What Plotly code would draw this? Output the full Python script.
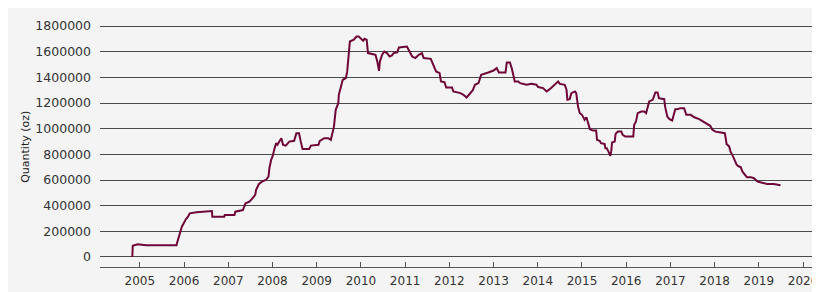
import plotly.graph_objects as go

# decimal years and quantity in oz
years = [
    2004.83, 2004.84, 2004.95, 2005.14, 2005.83, 2005.84, 2005.95, 2005.99, 2006.04, 2006.09,
    2006.13, 2006.28, 2006.63, 2006.64, 2006.91, 2006.92, 2007.14, 2007.16, 2007.33, 2007.39,
    2007.48, 2007.55, 2007.61, 2007.63, 2007.69, 2007.76, 2007.85, 2007.91, 2007.93, 2007.97,
    2008.00, 2008.04, 2008.08, 2008.11, 2008.15, 2008.20, 2008.24, 2008.30, 2008.38, 2008.49,
    2008.54, 2008.60, 2008.64, 2008.68, 2008.83, 2008.87, 2009.04, 2009.07, 2009.17, 2009.26,
    2009.32, 2009.35, 2009.39, 2009.43, 2009.49, 2009.50, 2009.54, 2009.59, 2009.66, 2009.69,
    2009.73, 2009.75, 2009.84, 2009.90, 2009.95, 2010.01, 2010.05, 2010.08, 2010.13, 2010.16,
    2010.25, 2010.33, 2010.37, 2010.41, 2010.43, 2010.48, 2010.53, 2010.59, 2010.65, 2010.70,
    2010.74, 2010.82, 2010.86, 2011.04, 2011.10, 2011.16, 2011.23, 2011.31, 2011.38, 2011.42,
    2011.58, 2011.64, 2011.70, 2011.78, 2011.81, 2011.89, 2011.93, 2012.06, 2012.09, 2012.25,
    2012.32, 2012.39, 2012.45, 2012.53, 2012.58, 2012.66, 2012.72, 2012.77, 2012.88, 2013.00,
    2013.07, 2013.12, 2013.27, 2013.30, 2013.37, 2013.41, 2013.45, 2013.48, 2013.56, 2013.60,
    2013.75, 2013.86, 2013.97, 2014.01, 2014.12, 2014.20, 2014.27, 2014.35, 2014.42, 2014.46,
    2014.50, 2014.61, 2014.65, 2014.67, 2014.72, 2014.76, 2014.84, 2014.87, 2014.91, 2014.95,
    2015.00, 2015.06, 2015.10, 2015.14, 2015.18, 2015.25, 2015.32, 2015.34, 2015.40, 2015.43,
    2015.51, 2015.53, 2015.56, 2015.61, 2015.64, 2015.66, 2015.68, 2015.74, 2015.76, 2015.81,
    2015.89, 2015.92, 2015.98, 2016.16, 2016.18, 2016.22, 2016.26, 2016.34, 2016.41, 2016.45,
    2016.49, 2016.52, 2016.60, 2016.66, 2016.71, 2016.74, 2016.86, 2016.88, 2016.93, 2016.98,
    2017.04, 2017.08, 2017.11, 2017.15, 2017.23, 2017.31, 2017.36, 2017.46, 2017.54, 2017.65,
    2017.71, 2017.84, 2017.90, 2017.95, 2018.02, 2018.14, 2018.23, 2018.25, 2018.27, 2018.33,
    2018.36, 2018.40, 2018.44, 2018.50, 2018.55, 2018.59, 2018.63, 2018.68, 2018.73, 2018.82,
    2018.89, 2018.97, 2019.04, 2019.19, 2019.34, 2019.43, 2019.49,
]
quantity = [
    0, 88000, 99000, 91000, 91000, 107000, 236000, 263000, 294000, 314000,
    340000, 348000, 358000, 314000, 314000, 327000, 327000, 353000, 366000, 418000,
    431000, 458000, 484000, 523000, 567000, 587000, 600000, 626000, 692000, 757000,
    782000, 835000, 887000, 874000, 899000, 926000, 874000, 868000, 899000, 905000,
    965000, 965000, 899000, 842000, 842000, 868000, 874000, 905000, 926000, 926000,
    913000, 965000, 1016000, 1147000, 1199000, 1264000, 1328000, 1381000, 1394000, 1446000,
    1601000, 1679000, 1693000, 1718000, 1718000, 1700000, 1685000, 1700000, 1693000, 1589000,
    1581000, 1576000, 1524000, 1451000, 1524000, 1576000, 1601000, 1589000, 1562000, 1570000,
    1589000, 1594000, 1633000, 1640000, 1601000, 1562000, 1550000, 1576000, 1589000, 1550000,
    1544000, 1498000, 1446000, 1433000, 1368000, 1362000, 1321000, 1321000, 1290000, 1277000,
    1264000, 1243000, 1269000, 1300000, 1342000, 1355000, 1420000, 1427000, 1438000, 1453000,
    1472000, 1438000, 1438000, 1516000, 1516000, 1472000, 1394000, 1368000, 1368000, 1355000,
    1342000, 1349000, 1342000, 1324000, 1316000, 1290000, 1308000, 1334000, 1360000, 1368000,
    1349000, 1342000, 1303000, 1225000, 1230000, 1277000, 1290000, 1277000, 1172000, 1121000,
    1108000, 1069000, 1089000, 1043000, 996000, 985000, 985000, 913000, 905000, 887000,
    881000, 848000, 848000, 814000, 788000, 821000, 892000, 899000, 959000, 977000,
    977000, 952000, 938000, 938000, 1030000, 1055000, 1121000, 1133000, 1133000, 1121000,
    1172000, 1212000, 1225000, 1282000, 1282000, 1238000, 1230000, 1172000, 1094000, 1074000,
    1063000, 1108000, 1152000, 1152000, 1160000, 1160000, 1108000, 1108000, 1089000, 1074000,
    1063000, 1037000, 1022000, 991000, 977000, 970000, 965000, 926000, 881000, 860000,
    821000, 796000, 762000, 718000, 705000, 700000, 665000, 640000, 622000, 622000,
    614000, 588000, 580000, 569000, 569000, 562000, 559000,
]

x_ticks = list(range(2005, 2021))
y_ticks = list(range(0, 1800001, 200000))

fig = go.Figure()
fig.add_trace(go.Scatter(
    x=years, y=quantity, mode="lines",
    line=dict(color="#6e0638", width=2),
    hoverinfo="x+y", showlegend=False,
))

bg = "#f4f4f4"
fig.update_layout(
    width=812, height=284,
    margin=dict(l=92, r=2, t=8, b=25),
    paper_bgcolor=bg,
    plot_bgcolor=bg,
    font=dict(family="DejaVu Sans, Verdana, sans-serif", color="#333333"),
    annotations=[dict(
        text="Quantity (oz)", textangle=-90,
        xref="paper", yref="paper",
        x=(25 - 100) / 718, y=(267 - 146.5) / 251,
        xanchor="center", yanchor="middle", showarrow=False,
        font=dict(size=11, color="#222222"),
    )],
)
fig.update_xaxes(
    range=[2004.099, 2020.27],
    tickmode="array", tickvals=x_ticks, ticktext=[str(v) for v in x_ticks],
    showgrid=False, zeroline=False,
    showline=True, linecolor="#555555", linewidth=1,
    ticks="inside", ticklen=5, tickcolor="#555555", tickwidth=1,
    tickfont=dict(size=12, color="#333333"),
    ticklabelstandoff=3,
    ticklabeloverflow="allow",
)
fig.update_yaxes(
    range=[-78000, 1878000],
    tickmode="array", tickvals=y_ticks, ticktext=[str(v) for v in y_ticks],
    showgrid=True, gridcolor="#4a4a4a", gridwidth=1,
    zeroline=False, showline=False, ticks="",
    tickfont=dict(size=12.5, color="#333333"),
    ticklabelstandoff=8,
)

fig.write_html("out.html")
